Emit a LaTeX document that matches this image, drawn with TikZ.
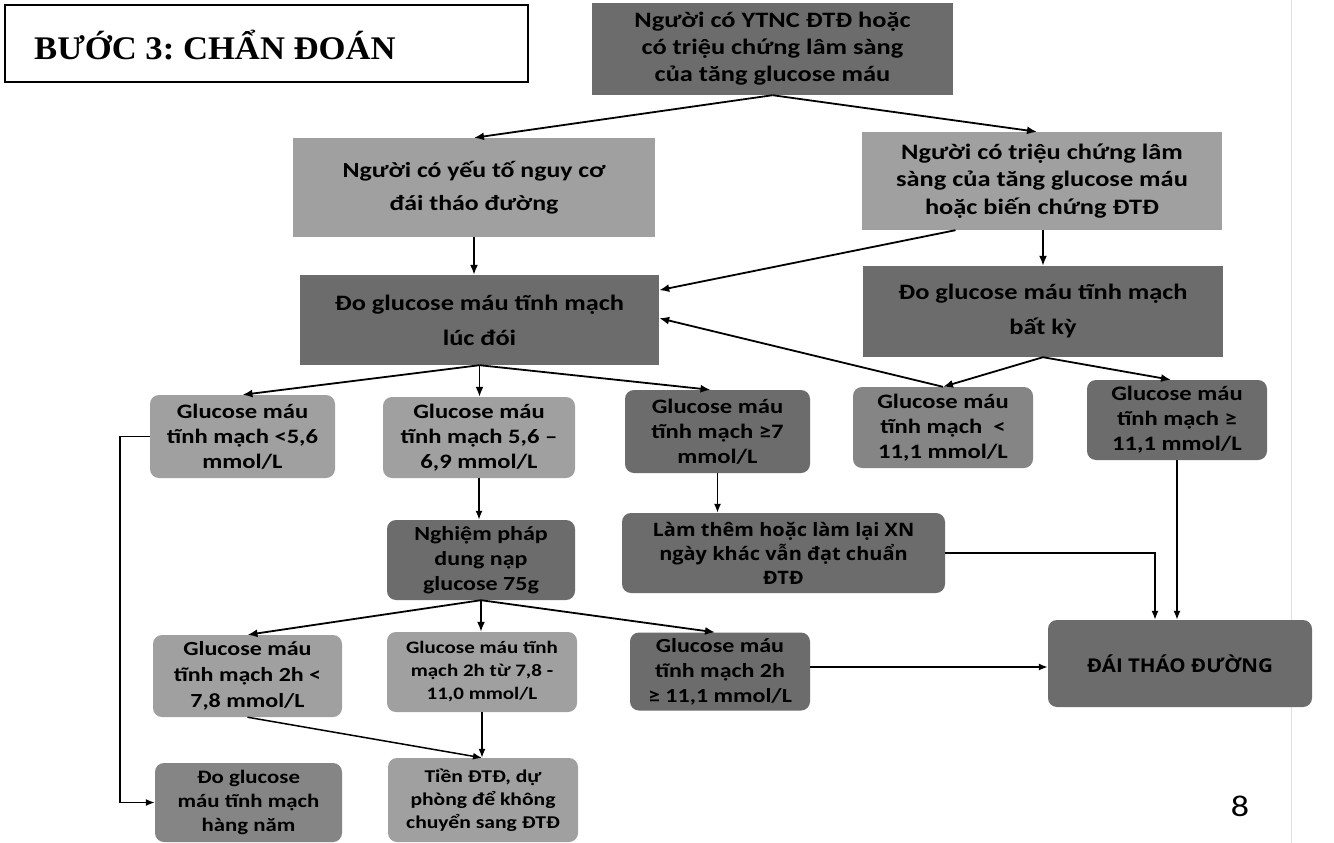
\documentclass[tikz,border=0pt]{standalone}
\usepackage{fontspec}
\setmainfont{Carlito}[FakeStretch=1.2]
\newfontfamily\osb{Open Sans}[FakeStretch=1.08]
\newfontfamily\tnr{Liberation Serif}[FakeStretch=1.05]
\usetikzlibrary{arrows.meta,calc}
\definecolor{dk}{HTML}{6C6C6C}
\definecolor{md}{HTML}{858585}
\definecolor{lt}{HTML}{A0A0A0}
\tikzset{
  box/.style={inner sep=0pt, align=center, text=black},
  sq/.style={box},
  rd/.style={box, rounded corners=9pt},
  fs/.style 2 args={font=\fontsize{#1}{#2}\selectfont\bfseries},
  arr/.style={-{Latex[length=10pt,width=8pt]}, line width=1.8pt},
  arrs/.style={-{Latex[length=9pt,width=7pt]}, line width=1.5pt},
}
\begin{document}
\frenchspacing
\begin{tikzpicture}[x=1pt,y=-1pt]
\useasboundingbox (0,0) rectangle (1334,843);
\fill[white] (0,0) rectangle (1334,843);
\draw[black!12, line width=1pt] (1291,0) -- (1291,843);

% title
\node[draw=black, line width=1.8pt, minimum width=523pt, minimum height=77pt, inner sep=0pt] (title) at (266.5,43.5) {};
\node[anchor=west, font=\fontsize{33}{36}\selectfont\tnr\bfseries, inner sep=0pt] (titletext) at (34,45) {BƯỚC 3:\ CHẨN ĐOÁN};

% row 1-2
\node[sq, fill=dk, fs={22}{27}, minimum width=361pt, minimum height=92pt] (T) at (772.5,49) {Người có YTNC ĐTĐ hoặc\\có triệu chứng lâm sàng\\của tăng glucose máu};
\node[sq, fill=lt, fs={21.5}{33}, minimum width=362pt, minimum height=99pt] (L1) at (474,187.5) {Người có yếu tố nguy cơ\\đái tháo đường};
\node[sq, fill=lt, fs={22}{27.5}, minimum width=360pt, minimum height=98pt] (R1) at (1042,181) {Người có triệu chứng lâm\\sàng của tăng glucose máu\\hoặc biến chứng ĐTĐ};
\node[sq, fill=dk, fs={22}{35}, minimum width=359pt, minimum height=90pt] (D) at (479.5,320) {Đo glucose máu tĩnh mạch\\lúc đói};
\node[sq, fill=dk, fs={22}{35}, minimum width=360pt, minimum height=91pt] (B) at (1043,311.5) {Đo glucose máu tĩnh mạch\\bất kỳ};

% row 3
\node[rd, fill=lt, fs={20.5}{25}, minimum width=185pt, minimum height=83pt] (G1) at (242.5,436.5) {Glucose máu\\tĩnh mạch <5,6\\mmol/L};
\node[rd, fill=lt, fs={20.5}{25}, minimum width=192pt, minimum height=81pt] (G2) at (479,437.5) {Glucose máu\\tĩnh mạch 5,6 –\\6,9 mmol/L};
\node[rd, fill=dk, fs={20.5}{25}, minimum width=185pt, minimum height=83pt] (G3) at (717.5,431.5) {Glucose máu\\tĩnh mạch ≥7\\mmol/L};
\node[rd, fill=md, fs={20.5}{25}, minimum width=180pt, minimum height=81pt] (G4) at (943,427.5) {Glucose máu\\tĩnh mạch\ \ <\\11,1 mmol/L};
\node[rd, fill=dk, fs={20.5}{25}, minimum width=180pt, minimum height=80pt] (G5) at (1177,420) {Glucose máu\\tĩnh mạch ≥\\11,1 mmol/L};

% row 4
\node[rd, fill=dk, fs={20}{25}, minimum width=188pt, minimum height=80pt] (N) at (481,560) {Nghiệm pháp\\dung nạp\\glucose 75g};
\node[rd, fill=dk, font=\fontsize{18.5}{24}\selectfont\osb\bfseries, minimum width=323pt, minimum height=80pt] (LT) at (783.5,553) {Làm thêm hoặc làm lại XN\\ngày khác vẫn đạt chuẩn\\ĐTĐ};

% row 5
\node[rd, fill=lt, fs={20}{26}, minimum width=189pt, minimum height=82pt] (H1) at (247.5,676) {Glucose máu\\tĩnh mạch 2h <\\7,8 mmol/L};
\node[rd, fill=lt, fs={17.5}{23}, minimum width=190pt, minimum height=80pt] (H2) at (482,672) {Glucose máu tĩnh\\mạch 2h từ 7,8 -\\11,0 mmol/L};
\node[rd, fill=dk, fs={20}{25}, minimum width=180pt, minimum height=78pt] (H3) at (720,671.5) {Glucose máu\\tĩnh mạch 2h\\≥ 11,1 mmol/L};
\node[rd, fill=dk, font=\fontsize{19}{22}\selectfont\osb\bfseries, minimum width=264pt, minimum height=87pt] (DTD) at (1180,663.5) {ĐÁI THÁO ĐƯỜNG};

% row 6
\node[rd, fill=md, fs={19}{24}, minimum width=187pt, minimum height=79pt] (HN) at (248.5,802.5) {Đo glucose\\máu tĩnh mạch\\hàng năm};
\node[rd, fill=lt, fs={18}{23}, minimum width=190pt, minimum height=84pt] (TD) at (483,800) {Tiền ĐTĐ, dự\\phòng để không\\chuyển sang ĐTĐ};

\node[font=\fontsize{30}{34}\selectfont, inner sep=0pt] (pg) at (1240,806) {8};

% connectors
\draw[arr] (T.south) -- (L1.north);
\draw[arr] (T.south) -- ([xshift=-5pt]R1.north);
\draw[arr] (L1.south) -- (L1.south |- D.north);
\draw[arr] ($(R1.south west)!0.26!(R1.south east)$) -- ($(D.north east)!0.17!(D.south east)$);
\draw[arr] (R1.south -| B.north) -- (B.north);
\draw[arr] (G4.north) -- ($(D.north east)!0.48!(D.south east)$);
\draw[arr] (B.south) -- (G4.north);
\draw[arr] (B.south) -- ([xshift=-6pt]G5.north);
\draw[arr] (D.south) -- (G1.north);
\draw[arr] (D.south) -- (D.south |- G2.north);
\draw[arr] (D.south) -- ([xshift=-7pt]G3.north);
\draw[arrs] (G1.west) -- ++(-30,0) coordinate (c1) |- (HN.west);
\draw[arrs] (G2.south) -- (G2.south |- N.north);
\draw[arrs] (G3.south) -- (G3.south |- LT.north);
\draw[arr] (N.south) -- (H1.north);
\draw[arr] (N.south) -- (N.south |- H2.north);
\draw[arr] (N.south) -- ([xshift=-5pt]H3.north);
\draw[arrs] (H1.south) -- (H2.south |- TD.north);
\draw[arrs] (H2.south) -- (H2.south |- TD.north);
\draw[arrs] ([yshift=4.5pt]H3.east) -- ([yshift=4.5pt]H3.east -| DTD.west);
\draw[arrs] (LT.east) -| ([xshift=-25pt]DTD.north);
\draw[arrs] (G5.south) -- (G5.south |- DTD.north);
\end{tikzpicture}
\end{document}
